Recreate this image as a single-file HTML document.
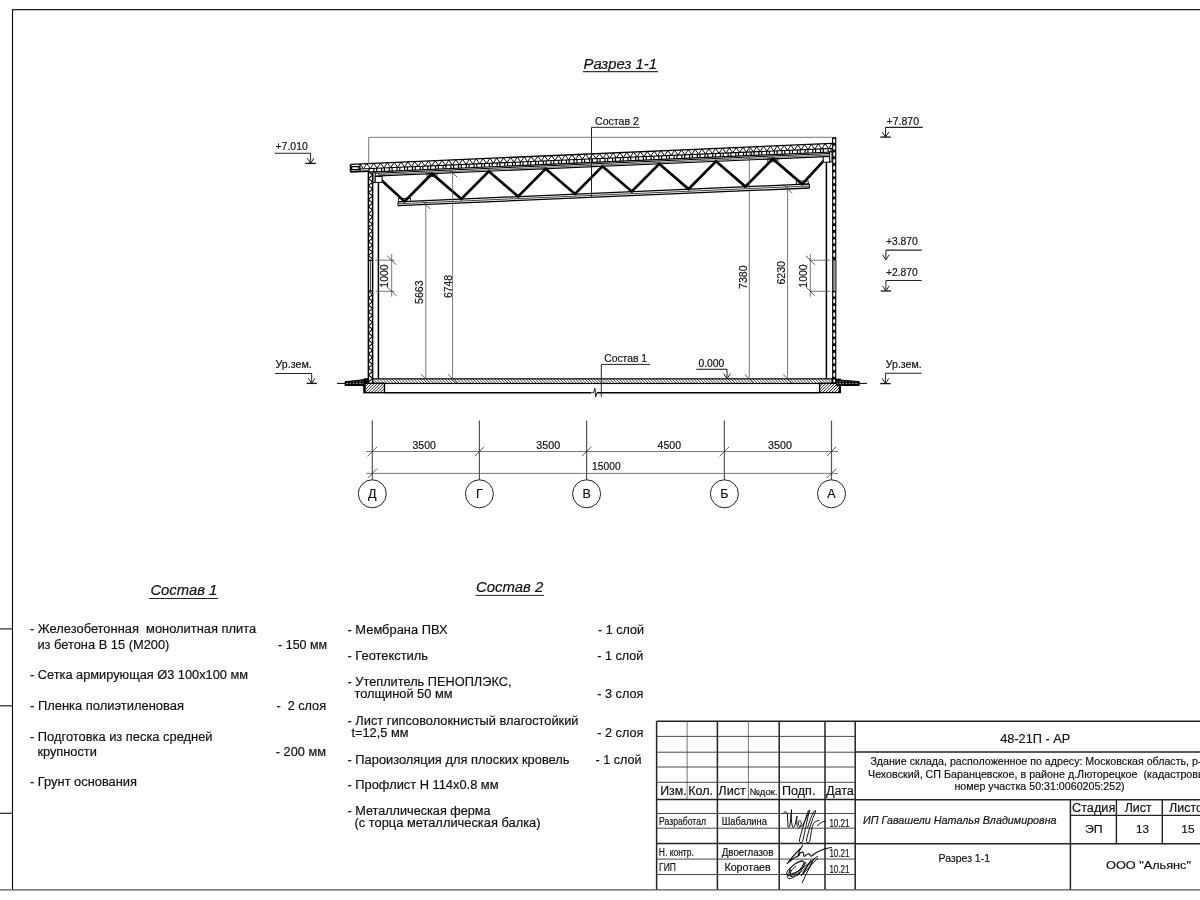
<!DOCTYPE html>
<html><head><meta charset="utf-8"><style>
html,body{margin:0;padding:0;background:#fff;}
svg{display:block;font-family:"Liberation Sans",sans-serif;will-change:transform;}
</style></head><body>
<svg width="1200" height="900" viewBox="0 0 1200 900">
<rect width="1200" height="900" fill="#fff"/>
<line x1="12.5" y1="9.6" x2="1200" y2="9.6" stroke="#1a1a1a" stroke-width="1.2" />
<line x1="12.5" y1="9.6" x2="12.5" y2="889.6" stroke="#000" stroke-width="1.1" />
<line x1="0" y1="889.8" x2="1200" y2="889.8" stroke="#555" stroke-width="1.3" />
<line x1="0" y1="628.9" x2="12" y2="628.9" stroke="#222" stroke-width="1.2" />
<line x1="0" y1="705.8" x2="12" y2="705.8" stroke="#222" stroke-width="1.2" />
<line x1="0" y1="813.3" x2="12" y2="813.3" stroke="#222" stroke-width="1.2" />
<text x="583.5" y="68.5" font-size="14" text-anchor="start" font-style="italic" textLength="73.5" lengthAdjust="spacingAndGlyphs" fill="#111" stroke="#111" stroke-width="0.18" xml:space="preserve" >Разрез 1-1</text>
<line x1="583" y1="71.6" x2="658" y2="71.6" stroke="#333" stroke-width="1.4" />
<line x1="350.5" y1="164.35" x2="832.3" y2="143.39" stroke="#000" stroke-width="1.35" />
<line x1="350.5" y1="171.95" x2="368.5" y2="171.17" stroke="#000" stroke-width="1.7" />
<line x1="360" y1="168.94" x2="832.3" y2="148.39" stroke="#000" stroke-width="1.1" />
<line x1="368" y1="172.19" x2="832.3" y2="151.99" stroke="#000" stroke-width="1.2" />
<path d="M350.5,164.35 V171.95" stroke="#000" stroke-width="1.6" fill="none" />
<rect x="351.6" y="166.61" width="7.4" height="3" stroke="#000" stroke-width="1.3" fill="#fff" />
<line x1="360" y1="163.94" x2="360" y2="171.54" stroke="#000" stroke-width="1.2" />
<path d="M360,163.94 L363.42,168.79 L366.84,163.64 L370.26,168.49 L373.68,163.34 L377.1,168.2 L380.52,163.05 L383.94,167.9 L387.36,162.75 L390.78,167.6 L394.2,162.45 L397.62,167.3 L401.04,162.15 L404.46,167.01 L407.88,161.86 L411.3,166.71 L414.72,161.56 L418.14,166.41 L421.56,161.26 L424.98,166.11 L428.4,160.96 L431.82,165.82 L435.24,160.67 L438.66,165.52 L442.08,160.37 L445.5,165.22 L448.92,160.07 L452.34,164.92 L455.76,159.77 L459.18,164.63 L462.6,159.48 L466.02,164.33 L469.44,159.18 L472.86,164.03 L476.28,158.88 L479.7,163.73 L483.12,158.58 L486.54,163.44 L489.96,158.29 L493.38,163.14 L496.8,157.99 L500.22,162.84 L503.64,157.69 L507.06,162.54 L510.48,157.39 L513.9,162.25 L517.32,157.1 L520.74,161.95 L524.16,156.8 L527.58,161.65 L531,156.5 L534.42,161.35 L537.84,156.2 L541.26,161.06 L544.68,155.91 L548.1,160.76 L551.52,155.61 L554.94,160.46 L558.36,155.31 L561.78,160.16 L565.2,155.01 L568.62,159.87 L572.04,154.72 L575.46,159.57 L578.88,154.42 L582.3,159.27 L585.72,154.12 L589.14,158.97 L592.56,153.82 L595.98,158.67 L599.4,153.53 L602.82,158.38 L606.24,153.23 L609.66,158.08 L613.08,152.93 L616.5,157.78 L619.92,152.63 L623.34,157.48 L626.76,152.34 L630.18,157.19 L633.6,152.04 L637.02,156.89 L640.44,151.74 L643.86,156.59 L647.28,151.44 L650.7,156.29 L654.12,151.15 L657.54,156 L660.96,150.85 L664.38,155.7 L667.8,150.55 L671.22,155.4 L674.64,150.25 L678.06,155.1 L681.48,149.96 L684.9,154.81 L688.32,149.66 L691.74,154.51 L695.16,149.36 L698.58,154.21 L702,149.06 L705.42,153.91 L708.84,148.77 L712.26,153.62 L715.68,148.47 L719.1,153.32 L722.52,148.17 L725.94,153.02 L729.36,147.87 L732.78,152.72 L736.2,147.58 L739.62,152.43 L743.04,147.28 L746.46,152.13 L749.88,146.98 L753.3,151.83 L756.72,146.68 L760.14,151.53 L763.56,146.39 L766.98,151.24 L770.4,146.09 L773.82,150.94 L777.24,145.79 L780.66,150.64 L784.08,145.49 L787.5,150.34 L790.92,145.19 L794.34,150.05 L797.76,144.9 L801.18,149.75 L804.6,144.6 L808.02,149.45 L811.44,144.3 L814.86,149.15 L818.28,144 L821.7,148.86 L825.12,143.71 L828.54,148.56 L831.96,143.41" stroke="#000" stroke-width="0.95" fill="none" />
<line x1="369" y1="168.55" x2="369" y2="172.15" stroke="#000" stroke-width="1.2" />
<line x1="373.9" y1="168.34" x2="373.9" y2="171.94" stroke="#000" stroke-width="1.2" />
<line x1="376.7" y1="168.21" x2="376.7" y2="171.81" stroke="#000" stroke-width="1.2" />
<line x1="381.6" y1="168" x2="381.6" y2="171.6" stroke="#000" stroke-width="1.2" />
<line x1="384.4" y1="167.88" x2="384.4" y2="171.48" stroke="#000" stroke-width="1.2" />
<line x1="389.3" y1="167.67" x2="389.3" y2="171.27" stroke="#000" stroke-width="1.2" />
<line x1="392.1" y1="167.54" x2="392.1" y2="171.14" stroke="#000" stroke-width="1.2" />
<line x1="397" y1="167.33" x2="397" y2="170.93" stroke="#000" stroke-width="1.2" />
<line x1="399.8" y1="167.21" x2="399.8" y2="170.81" stroke="#000" stroke-width="1.2" />
<line x1="404.7" y1="167" x2="404.7" y2="170.6" stroke="#000" stroke-width="1.2" />
<line x1="407.5" y1="166.87" x2="407.5" y2="170.47" stroke="#000" stroke-width="1.2" />
<line x1="412.4" y1="166.66" x2="412.4" y2="170.26" stroke="#000" stroke-width="1.2" />
<line x1="415.2" y1="166.54" x2="415.2" y2="170.14" stroke="#000" stroke-width="1.2" />
<line x1="420.1" y1="166.33" x2="420.1" y2="169.93" stroke="#000" stroke-width="1.2" />
<line x1="422.9" y1="166.2" x2="422.9" y2="169.8" stroke="#000" stroke-width="1.2" />
<line x1="427.8" y1="165.99" x2="427.8" y2="169.59" stroke="#000" stroke-width="1.2" />
<line x1="430.6" y1="165.87" x2="430.6" y2="169.47" stroke="#000" stroke-width="1.2" />
<line x1="435.5" y1="165.66" x2="435.5" y2="169.26" stroke="#000" stroke-width="1.2" />
<line x1="438.3" y1="165.53" x2="438.3" y2="169.13" stroke="#000" stroke-width="1.2" />
<line x1="443.2" y1="165.32" x2="443.2" y2="168.92" stroke="#000" stroke-width="1.2" />
<line x1="446" y1="165.2" x2="446" y2="168.8" stroke="#000" stroke-width="1.2" />
<line x1="450.9" y1="164.99" x2="450.9" y2="168.59" stroke="#000" stroke-width="1.2" />
<line x1="453.7" y1="164.86" x2="453.7" y2="168.46" stroke="#000" stroke-width="1.2" />
<line x1="458.6" y1="164.65" x2="458.6" y2="168.25" stroke="#000" stroke-width="1.2" />
<line x1="461.4" y1="164.53" x2="461.4" y2="168.13" stroke="#000" stroke-width="1.2" />
<line x1="466.3" y1="164.32" x2="466.3" y2="167.92" stroke="#000" stroke-width="1.2" />
<line x1="469.1" y1="164.19" x2="469.1" y2="167.79" stroke="#000" stroke-width="1.2" />
<line x1="474" y1="163.98" x2="474" y2="167.58" stroke="#000" stroke-width="1.2" />
<line x1="476.8" y1="163.86" x2="476.8" y2="167.46" stroke="#000" stroke-width="1.2" />
<line x1="481.7" y1="163.65" x2="481.7" y2="167.25" stroke="#000" stroke-width="1.2" />
<line x1="484.5" y1="163.52" x2="484.5" y2="167.12" stroke="#000" stroke-width="1.2" />
<line x1="489.4" y1="163.31" x2="489.4" y2="166.91" stroke="#000" stroke-width="1.2" />
<line x1="492.2" y1="163.19" x2="492.2" y2="166.79" stroke="#000" stroke-width="1.2" />
<line x1="497.1" y1="162.98" x2="497.1" y2="166.58" stroke="#000" stroke-width="1.2" />
<line x1="499.9" y1="162.85" x2="499.9" y2="166.45" stroke="#000" stroke-width="1.2" />
<line x1="504.8" y1="162.64" x2="504.8" y2="166.24" stroke="#000" stroke-width="1.2" />
<line x1="507.6" y1="162.52" x2="507.6" y2="166.12" stroke="#000" stroke-width="1.2" />
<line x1="512.5" y1="162.31" x2="512.5" y2="165.91" stroke="#000" stroke-width="1.2" />
<line x1="515.3" y1="162.18" x2="515.3" y2="165.78" stroke="#000" stroke-width="1.2" />
<line x1="520.2" y1="161.97" x2="520.2" y2="165.57" stroke="#000" stroke-width="1.2" />
<line x1="523" y1="161.85" x2="523" y2="165.45" stroke="#000" stroke-width="1.2" />
<line x1="527.9" y1="161.64" x2="527.9" y2="165.24" stroke="#000" stroke-width="1.2" />
<line x1="530.7" y1="161.51" x2="530.7" y2="165.11" stroke="#000" stroke-width="1.2" />
<line x1="535.6" y1="161.3" x2="535.6" y2="164.9" stroke="#000" stroke-width="1.2" />
<line x1="538.4" y1="161.18" x2="538.4" y2="164.78" stroke="#000" stroke-width="1.2" />
<line x1="543.3" y1="160.97" x2="543.3" y2="164.57" stroke="#000" stroke-width="1.2" />
<line x1="546.1" y1="160.84" x2="546.1" y2="164.44" stroke="#000" stroke-width="1.2" />
<line x1="551" y1="160.63" x2="551" y2="164.23" stroke="#000" stroke-width="1.2" />
<line x1="553.8" y1="160.51" x2="553.8" y2="164.11" stroke="#000" stroke-width="1.2" />
<line x1="558.7" y1="160.3" x2="558.7" y2="163.9" stroke="#000" stroke-width="1.2" />
<line x1="561.5" y1="160.17" x2="561.5" y2="163.77" stroke="#000" stroke-width="1.2" />
<line x1="566.4" y1="159.96" x2="566.4" y2="163.56" stroke="#000" stroke-width="1.2" />
<line x1="569.2" y1="159.84" x2="569.2" y2="163.44" stroke="#000" stroke-width="1.2" />
<line x1="574.1" y1="159.63" x2="574.1" y2="163.23" stroke="#000" stroke-width="1.2" />
<line x1="576.9" y1="159.5" x2="576.9" y2="163.1" stroke="#000" stroke-width="1.2" />
<line x1="581.8" y1="159.29" x2="581.8" y2="162.89" stroke="#000" stroke-width="1.2" />
<line x1="584.6" y1="159.17" x2="584.6" y2="162.77" stroke="#000" stroke-width="1.2" />
<line x1="589.5" y1="158.96" x2="589.5" y2="162.56" stroke="#000" stroke-width="1.2" />
<line x1="592.3" y1="158.83" x2="592.3" y2="162.43" stroke="#000" stroke-width="1.2" />
<line x1="597.2" y1="158.62" x2="597.2" y2="162.22" stroke="#000" stroke-width="1.2" />
<line x1="600" y1="158.5" x2="600" y2="162.1" stroke="#000" stroke-width="1.2" />
<line x1="604.9" y1="158.29" x2="604.9" y2="161.89" stroke="#000" stroke-width="1.2" />
<line x1="607.7" y1="158.17" x2="607.7" y2="161.77" stroke="#000" stroke-width="1.2" />
<line x1="612.6" y1="157.95" x2="612.6" y2="161.55" stroke="#000" stroke-width="1.2" />
<line x1="615.4" y1="157.83" x2="615.4" y2="161.43" stroke="#000" stroke-width="1.2" />
<line x1="620.3" y1="157.62" x2="620.3" y2="161.22" stroke="#000" stroke-width="1.2" />
<line x1="623.1" y1="157.5" x2="623.1" y2="161.1" stroke="#000" stroke-width="1.2" />
<line x1="628" y1="157.28" x2="628" y2="160.88" stroke="#000" stroke-width="1.2" />
<line x1="630.8" y1="157.16" x2="630.8" y2="160.76" stroke="#000" stroke-width="1.2" />
<line x1="635.7" y1="156.95" x2="635.7" y2="160.55" stroke="#000" stroke-width="1.2" />
<line x1="638.5" y1="156.83" x2="638.5" y2="160.43" stroke="#000" stroke-width="1.2" />
<line x1="643.4" y1="156.61" x2="643.4" y2="160.21" stroke="#000" stroke-width="1.2" />
<line x1="646.2" y1="156.49" x2="646.2" y2="160.09" stroke="#000" stroke-width="1.2" />
<line x1="651.1" y1="156.28" x2="651.1" y2="159.88" stroke="#000" stroke-width="1.2" />
<line x1="653.9" y1="156.16" x2="653.9" y2="159.76" stroke="#000" stroke-width="1.2" />
<line x1="658.8" y1="155.94" x2="658.8" y2="159.54" stroke="#000" stroke-width="1.2" />
<line x1="661.6" y1="155.82" x2="661.6" y2="159.42" stroke="#000" stroke-width="1.2" />
<line x1="666.5" y1="155.61" x2="666.5" y2="159.21" stroke="#000" stroke-width="1.2" />
<line x1="669.3" y1="155.49" x2="669.3" y2="159.09" stroke="#000" stroke-width="1.2" />
<line x1="674.2" y1="155.27" x2="674.2" y2="158.87" stroke="#000" stroke-width="1.2" />
<line x1="677" y1="155.15" x2="677" y2="158.75" stroke="#000" stroke-width="1.2" />
<line x1="681.9" y1="154.94" x2="681.9" y2="158.54" stroke="#000" stroke-width="1.2" />
<line x1="684.7" y1="154.82" x2="684.7" y2="158.42" stroke="#000" stroke-width="1.2" />
<line x1="689.6" y1="154.6" x2="689.6" y2="158.2" stroke="#000" stroke-width="1.2" />
<line x1="692.4" y1="154.48" x2="692.4" y2="158.08" stroke="#000" stroke-width="1.2" />
<line x1="697.3" y1="154.27" x2="697.3" y2="157.87" stroke="#000" stroke-width="1.2" />
<line x1="700.1" y1="154.15" x2="700.1" y2="157.75" stroke="#000" stroke-width="1.2" />
<line x1="705" y1="153.93" x2="705" y2="157.53" stroke="#000" stroke-width="1.2" />
<line x1="707.8" y1="153.81" x2="707.8" y2="157.41" stroke="#000" stroke-width="1.2" />
<line x1="712.7" y1="153.6" x2="712.7" y2="157.2" stroke="#000" stroke-width="1.2" />
<line x1="715.5" y1="153.48" x2="715.5" y2="157.08" stroke="#000" stroke-width="1.2" />
<line x1="720.4" y1="153.26" x2="720.4" y2="156.86" stroke="#000" stroke-width="1.2" />
<line x1="723.2" y1="153.14" x2="723.2" y2="156.74" stroke="#000" stroke-width="1.2" />
<line x1="728.1" y1="152.93" x2="728.1" y2="156.53" stroke="#000" stroke-width="1.2" />
<line x1="730.9" y1="152.81" x2="730.9" y2="156.41" stroke="#000" stroke-width="1.2" />
<line x1="735.8" y1="152.59" x2="735.8" y2="156.19" stroke="#000" stroke-width="1.2" />
<line x1="738.6" y1="152.47" x2="738.6" y2="156.07" stroke="#000" stroke-width="1.2" />
<line x1="743.5" y1="152.26" x2="743.5" y2="155.86" stroke="#000" stroke-width="1.2" />
<line x1="746.3" y1="152.14" x2="746.3" y2="155.74" stroke="#000" stroke-width="1.2" />
<line x1="751.2" y1="151.92" x2="751.2" y2="155.52" stroke="#000" stroke-width="1.2" />
<line x1="754" y1="151.8" x2="754" y2="155.4" stroke="#000" stroke-width="1.2" />
<line x1="758.9" y1="151.59" x2="758.9" y2="155.19" stroke="#000" stroke-width="1.2" />
<line x1="761.7" y1="151.47" x2="761.7" y2="155.07" stroke="#000" stroke-width="1.2" />
<line x1="766.6" y1="151.25" x2="766.6" y2="154.85" stroke="#000" stroke-width="1.2" />
<line x1="769.4" y1="151.13" x2="769.4" y2="154.73" stroke="#000" stroke-width="1.2" />
<line x1="774.3" y1="150.92" x2="774.3" y2="154.52" stroke="#000" stroke-width="1.2" />
<line x1="777.1" y1="150.8" x2="777.1" y2="154.4" stroke="#000" stroke-width="1.2" />
<line x1="782" y1="150.58" x2="782" y2="154.18" stroke="#000" stroke-width="1.2" />
<line x1="784.8" y1="150.46" x2="784.8" y2="154.06" stroke="#000" stroke-width="1.2" />
<line x1="789.7" y1="150.25" x2="789.7" y2="153.85" stroke="#000" stroke-width="1.2" />
<line x1="792.5" y1="150.13" x2="792.5" y2="153.73" stroke="#000" stroke-width="1.2" />
<line x1="797.4" y1="149.91" x2="797.4" y2="153.51" stroke="#000" stroke-width="1.2" />
<line x1="800.2" y1="149.79" x2="800.2" y2="153.39" stroke="#000" stroke-width="1.2" />
<line x1="805.1" y1="149.58" x2="805.1" y2="153.18" stroke="#000" stroke-width="1.2" />
<line x1="807.9" y1="149.46" x2="807.9" y2="153.06" stroke="#000" stroke-width="1.2" />
<line x1="812.8" y1="149.24" x2="812.8" y2="152.84" stroke="#000" stroke-width="1.2" />
<line x1="815.6" y1="149.12" x2="815.6" y2="152.72" stroke="#000" stroke-width="1.2" />
<line x1="820.5" y1="148.91" x2="820.5" y2="152.51" stroke="#000" stroke-width="1.2" />
<line x1="823.3" y1="148.79" x2="823.3" y2="152.39" stroke="#000" stroke-width="1.2" />
<line x1="828.2" y1="148.57" x2="828.2" y2="152.17" stroke="#000" stroke-width="1.2" />
<line x1="831" y1="148.45" x2="831" y2="152.05" stroke="#000" stroke-width="1.2" />
<line x1="374" y1="173.33" x2="831" y2="153.45" stroke="#000" stroke-width="1.0" />
<line x1="378" y1="174.66" x2="831" y2="154.95" stroke="#222" stroke-width="0.7" />
<line x1="374" y1="176.13" x2="831" y2="156.35" stroke="#000" stroke-width="1.2" />
<line x1="398" y1="201.79" x2="809.4" y2="183.99" stroke="#000" stroke-width="1.25" />
<line x1="398" y1="203.79" x2="809.4" y2="185.99" stroke="#111" stroke-width="0.8" />
<line x1="398" y1="205.69" x2="809.4" y2="187.99" stroke="#000" stroke-width="1.3" />
<line x1="398" y1="201.79" x2="398" y2="205.69" stroke="#000" stroke-width="1.0" />
<line x1="809.4" y1="183.99" x2="809.4" y2="187.99" stroke="#000" stroke-width="1.0" />
<path d="M379.5,178.49 L404.6,201.4 L432,173.71 L461.4,198.93 L488.8,171.24 L518.2,196.46 L545.6,168.77 L575,193.99 L602.4,166.3 L631.8,191.52 L659.2,163.82 L688.6,189.05 L716,161.35 L745.4,186.58 L772.8,158.88 L802.2,184.1 L825,159.31" stroke="#000" stroke-width="2.7" fill="none" stroke-linejoin="miter"/>
<rect x="398.6" y="198.3" width="12" height="3.2" stroke="#000" stroke-width="0.8" fill="none" />
<rect x="796.2" y="181" width="12" height="3.2" stroke="#000" stroke-width="0.8" fill="none" />
<rect x="427" y="173.81" width="10" height="2.8" stroke="#000" stroke-width="0.8" fill="none" />
<rect x="767.8" y="158.98" width="10" height="2.8" stroke="#000" stroke-width="0.8" fill="none" />
<rect x="372.8" y="171.98" width="2.4" height="10.6" stroke="#000" stroke-width="1.0" fill="#fff" />
<rect x="375.2" y="176.58" width="6.9" height="5.8" stroke="#000" stroke-width="1.0" fill="#fff" />
<rect x="829.6" y="151.91" width="2.4" height="10" stroke="#000" stroke-width="1.0" fill="#fff" />
<rect x="823.2" y="156.69" width="6.4" height="5.5" stroke="#000" stroke-width="1.0" fill="#fff" />
<path d="M368.4,171.59 L372.6,175.09 L368.4,178.59 L372.6,182.09 L368.4,185.59 L372.6,189.09 L368.4,192.59 L372.6,196.09 L368.4,199.59 L372.6,203.09 L368.4,206.59 L372.6,210.09 L368.4,213.59 L372.6,217.09 L368.4,220.59 L372.6,224.09 L368.4,227.59 L372.6,231.09 L368.4,234.59 L372.6,238.09 L368.4,241.59 L372.6,245.09 L368.4,248.59 L372.6,252.09 L368.4,255.59 L372.6,259.09" stroke="#000" stroke-width="1.1" fill="none" />
<path d="M368.4,290.9 L372.6,294.4 L368.4,297.9 L372.6,301.4 L368.4,304.9 L372.6,308.4 L368.4,311.9 L372.6,315.4 L368.4,318.9 L372.6,322.4 L368.4,325.9 L372.6,329.4 L368.4,332.9 L372.6,336.4 L368.4,339.9 L372.6,343.4 L368.4,346.9 L372.6,350.4 L368.4,353.9 L372.6,357.4 L368.4,360.9 L372.6,364.4 L368.4,367.9 L372.6,371.4 L368.4,374.9 L372.6,378.4 L368.4,381.9" stroke="#000" stroke-width="1.1" fill="none" />
<line x1="368.4" y1="171.19" x2="368.4" y2="383.5" stroke="#000" stroke-width="1.5" />
<line x1="372.6" y1="171.72" x2="372.6" y2="383.5" stroke="#000" stroke-width="1.5" />
<line x1="368.4" y1="260.3" x2="372.6" y2="260.3" stroke="#000" stroke-width="1.3" />
<line x1="368.4" y1="290.9" x2="372.6" y2="290.9" stroke="#000" stroke-width="1.3" />
<line x1="370.5" y1="260.3" x2="370.5" y2="290.9" stroke="#000" stroke-width="0.7" />
<rect x="832.1" y="137.1" width="4.2" height="246.4" stroke="#000" stroke-width="0" fill="#000" />
<rect x="833.2" y="138.6" width="2" height="4.6" rx="1" ry="1.6" fill="#fff" stroke="none"/>
<rect x="833.2" y="145.3" width="2" height="4.6" rx="1" ry="1.6" fill="#fff" stroke="none"/>
<rect x="833.2" y="152" width="2" height="4.6" rx="1" ry="1.6" fill="#fff" stroke="none"/>
<rect x="833.2" y="158.7" width="2" height="4.6" rx="1" ry="1.6" fill="#fff" stroke="none"/>
<rect x="833.2" y="165.4" width="2" height="4.6" rx="1" ry="1.6" fill="#fff" stroke="none"/>
<rect x="833.2" y="172.1" width="2" height="4.6" rx="1" ry="1.6" fill="#fff" stroke="none"/>
<rect x="833.2" y="178.8" width="2" height="4.6" rx="1" ry="1.6" fill="#fff" stroke="none"/>
<rect x="833.2" y="185.5" width="2" height="4.6" rx="1" ry="1.6" fill="#fff" stroke="none"/>
<rect x="833.2" y="192.2" width="2" height="4.6" rx="1" ry="1.6" fill="#fff" stroke="none"/>
<rect x="833.2" y="198.9" width="2" height="4.6" rx="1" ry="1.6" fill="#fff" stroke="none"/>
<rect x="833.2" y="205.6" width="2" height="4.6" rx="1" ry="1.6" fill="#fff" stroke="none"/>
<rect x="833.2" y="212.3" width="2" height="4.6" rx="1" ry="1.6" fill="#fff" stroke="none"/>
<rect x="833.2" y="219" width="2" height="4.6" rx="1" ry="1.6" fill="#fff" stroke="none"/>
<rect x="833.2" y="225.7" width="2" height="4.6" rx="1" ry="1.6" fill="#fff" stroke="none"/>
<rect x="833.2" y="232.4" width="2" height="4.6" rx="1" ry="1.6" fill="#fff" stroke="none"/>
<rect x="833.2" y="239.1" width="2" height="4.6" rx="1" ry="1.6" fill="#fff" stroke="none"/>
<rect x="833.2" y="245.8" width="2" height="4.6" rx="1" ry="1.6" fill="#fff" stroke="none"/>
<rect x="833.2" y="252.5" width="2" height="4.6" rx="1" ry="1.6" fill="#fff" stroke="none"/>
<rect x="833.2" y="292.1" width="2" height="4.6" rx="1" ry="1.6" fill="#fff" stroke="none"/>
<rect x="833.2" y="298.8" width="2" height="4.6" rx="1" ry="1.6" fill="#fff" stroke="none"/>
<rect x="833.2" y="305.5" width="2" height="4.6" rx="1" ry="1.6" fill="#fff" stroke="none"/>
<rect x="833.2" y="312.2" width="2" height="4.6" rx="1" ry="1.6" fill="#fff" stroke="none"/>
<rect x="833.2" y="318.9" width="2" height="4.6" rx="1" ry="1.6" fill="#fff" stroke="none"/>
<rect x="833.2" y="325.6" width="2" height="4.6" rx="1" ry="1.6" fill="#fff" stroke="none"/>
<rect x="833.2" y="332.3" width="2" height="4.6" rx="1" ry="1.6" fill="#fff" stroke="none"/>
<rect x="833.2" y="339" width="2" height="4.6" rx="1" ry="1.6" fill="#fff" stroke="none"/>
<rect x="833.2" y="345.7" width="2" height="4.6" rx="1" ry="1.6" fill="#fff" stroke="none"/>
<rect x="833.2" y="352.4" width="2" height="4.6" rx="1" ry="1.6" fill="#fff" stroke="none"/>
<rect x="833.2" y="359.1" width="2" height="4.6" rx="1" ry="1.6" fill="#fff" stroke="none"/>
<rect x="833.2" y="365.8" width="2" height="4.6" rx="1" ry="1.6" fill="#fff" stroke="none"/>
<rect x="833.2" y="372.5" width="2" height="4.6" rx="1" ry="1.6" fill="#fff" stroke="none"/>
<rect x="833.2" y="379.2" width="2" height="3.3" rx="1" ry="1.6" fill="#fff" stroke="none"/>
<rect x="832.6" y="260.3" width="3.2" height="30.6" stroke="#000" stroke-width="0" fill="#999" />
<line x1="832.7" y1="260.3" x2="832.7" y2="290.9" stroke="#222" stroke-width="1.2" />
<line x1="835.9" y1="260.3" x2="835.9" y2="290.9" stroke="#444" stroke-width="0.8" />
<line x1="378.4" y1="182.16" x2="378.4" y2="379" stroke="#000" stroke-width="1.5" />
<line x1="826.4" y1="162.17" x2="826.4" y2="379" stroke="#000" stroke-width="1.5" />
<defs><pattern id="h1" patternUnits="userSpaceOnUse" width="2.2" height="2.2" patternTransform="rotate(-45)"><line x1="0" y1="0" x2="0" y2="2.2" stroke="#000" stroke-width="1.05"/></pattern><pattern id="h2" patternUnits="userSpaceOnUse" width="2.1" height="2.1" patternTransform="rotate(45)"><line x1="0" y1="0" x2="0" y2="2.1" stroke="#000" stroke-width="1.2"/></pattern><pattern id="h3" patternUnits="userSpaceOnUse" width="3.2" height="2.3" y="0.4"><rect width="3.2" height="2.3" fill="#000"/><rect x="0.9" y="0.8" width="1.5" height="0.8" fill="#ddd"/></pattern></defs>
<rect x="372.6" y="378.85" width="459.5" height="4.6" stroke="#000" stroke-width="1.2" fill="url(#h1)" />
<rect x="364" y="383.3" width="20.5" height="9.4" stroke="#000" stroke-width="1.3" fill="url(#h2)" />
<line x1="364.6" y1="383.3" x2="364.6" y2="392.7" stroke="#000" stroke-width="2.2" />
<rect x="819.6" y="383.3" width="20.8" height="9.3" stroke="#000" stroke-width="1.3" fill="url(#h2)" />
<line x1="839.8" y1="383.3" x2="839.8" y2="392.6" stroke="#000" stroke-width="2.2" />
<line x1="384.5" y1="392.7" x2="591.3" y2="392.7" stroke="#000" stroke-width="1.4" />
<line x1="597" y1="392.7" x2="819.6" y2="392.7" stroke="#000" stroke-width="1.4" />
<path d="M591.3,392.7 L593.5,392.7 L595,388.3 L595.6,397 L597,392.7" stroke="#000" stroke-width="0.9" fill="none" />
<rect x="363.8" y="378.2" width="4.6" height="5.2" stroke="#000" stroke-width="0" fill="#000" />
<path d="M345,381.6 L356,380.6 L363.8,379.6 L363.8,385.5 L345,385.5 Z" stroke="#000" stroke-width="1.0" fill="url(#h3)" />
<line x1="337" y1="383.4" x2="345" y2="383.4" stroke="#000" stroke-width="1.0" />
<rect x="836.3" y="378.6" width="4.4" height="5" stroke="#000" stroke-width="0" fill="#000" />
<path d="M836.3,379.6 L847,380.6 L859.2,381.6 L859.2,385.5 L836.3,385.5 Z" stroke="#000" stroke-width="1.0" fill="url(#h3)" />
<line x1="859.2" y1="383.4" x2="867" y2="383.4" stroke="#000" stroke-width="1.0" />
<line x1="368.7" y1="137.3" x2="832.3" y2="137.3" stroke="#555" stroke-width="0.8" />
<line x1="368.7" y1="137.3" x2="368.7" y2="164" stroke="#555" stroke-width="0.8" />
<line x1="425.8" y1="199.58" x2="425.8" y2="378.9" stroke="#555" stroke-width="0.8" />
<line x1="421.3" y1="200.08" x2="430.3" y2="209.08" stroke="#333" stroke-width="0.8" />
<line x1="421.3" y1="374.4" x2="430.3" y2="383.4" stroke="#333" stroke-width="0.8" />
<line x1="452.6" y1="168.51" x2="452.6" y2="378.9" stroke="#555" stroke-width="0.8" />
<line x1="448.1" y1="168.21" x2="457.1" y2="177.21" stroke="#333" stroke-width="0.8" />
<line x1="448.1" y1="374.4" x2="457.1" y2="383.4" stroke="#333" stroke-width="0.8" />
<line x1="749.3" y1="147.51" x2="749.3" y2="378.9" stroke="#555" stroke-width="0.8" />
<line x1="744.8" y1="374.4" x2="753.8" y2="383.4" stroke="#333" stroke-width="0.8" />
<line x1="787.6" y1="183.84" x2="787.6" y2="378.9" stroke="#555" stroke-width="0.8" />
<line x1="783.1" y1="184.34" x2="792.1" y2="193.34" stroke="#333" stroke-width="0.8" />
<line x1="783.1" y1="374.4" x2="792.1" y2="383.4" stroke="#333" stroke-width="0.8" />
<text x="423.1" y="292.2" font-size="10.5" text-anchor="middle" textLength="23.6" lengthAdjust="spacingAndGlyphs" transform="rotate(-90 423.1 292.2)" fill="#111" stroke="#111" stroke-width="0.18" xml:space="preserve" >5663</text>
<text x="452" y="286.5" font-size="10.5" text-anchor="middle" textLength="23.2" lengthAdjust="spacingAndGlyphs" transform="rotate(-90 452 286.5)" fill="#111" stroke="#111" stroke-width="0.18" xml:space="preserve" >6748</text>
<text x="746.8" y="277.2" font-size="10.5" text-anchor="middle" textLength="23.4" lengthAdjust="spacingAndGlyphs" transform="rotate(-90 746.8 277.2)" fill="#111" stroke="#111" stroke-width="0.18" xml:space="preserve" >7380</text>
<text x="785" y="272.8" font-size="10.5" text-anchor="middle" textLength="23.4" lengthAdjust="spacingAndGlyphs" transform="rotate(-90 785 272.8)" fill="#111" stroke="#111" stroke-width="0.18" xml:space="preserve" >6230</text>
<line x1="391.7" y1="253.9" x2="391.7" y2="296.7" stroke="#555" stroke-width="0.8" />
<line x1="375.6" y1="260.2" x2="394.4" y2="260.2" stroke="#555" stroke-width="0.8" />
<line x1="375.6" y1="291.3" x2="394.4" y2="291.3" stroke="#555" stroke-width="0.8" />
<line x1="387.2" y1="255.7" x2="396.2" y2="264.7" stroke="#333" stroke-width="0.8" />
<line x1="387.2" y1="286.8" x2="396.2" y2="295.8" stroke="#333" stroke-width="0.8" />
<text x="388.1" y="276" font-size="10.5" text-anchor="middle" textLength="23.4" lengthAdjust="spacingAndGlyphs" transform="rotate(-90 388.1 276)" fill="#111" stroke="#111" stroke-width="0.18" xml:space="preserve" >1000</text>
<line x1="810.3" y1="253.9" x2="810.3" y2="296.7" stroke="#555" stroke-width="0.8" />
<line x1="809.5" y1="260.2" x2="830" y2="260.2" stroke="#555" stroke-width="0.8" />
<line x1="809.5" y1="291.3" x2="830" y2="291.3" stroke="#555" stroke-width="0.8" />
<line x1="805.8" y1="255.7" x2="814.8" y2="264.7" stroke="#333" stroke-width="0.8" />
<line x1="805.8" y1="286.8" x2="814.8" y2="295.8" stroke="#333" stroke-width="0.8" />
<text x="807.1" y="276" font-size="10.5" text-anchor="middle" textLength="23.4" lengthAdjust="spacingAndGlyphs" transform="rotate(-90 807.1 276)" fill="#111" stroke="#111" stroke-width="0.18" xml:space="preserve" >1000</text>
<line x1="274.6" y1="153.2" x2="310.6" y2="153.2" stroke="#222" stroke-width="1.1" />
<line x1="310.6" y1="153.2" x2="310.6" y2="163.4" stroke="#222" stroke-width="1.0" />
<path d="M307.3,158.2 L310.6,163.4 L313.9,158.2" stroke="#222" stroke-width="1.0" fill="none" />
<line x1="305.4" y1="163.4" x2="315.8" y2="163.4" stroke="#111" stroke-width="1.3" />
<text x="275.5" y="150.4" font-size="10.5" text-anchor="start" textLength="32.3" lengthAdjust="spacingAndGlyphs" fill="#111" stroke="#111" stroke-width="0.18" xml:space="preserve" >+7.010</text>
<line x1="885.5" y1="127.4" x2="922.8" y2="127.4" stroke="#222" stroke-width="1.1" />
<line x1="885.5" y1="127.4" x2="885.5" y2="137.1" stroke="#222" stroke-width="1.0" />
<path d="M882.2,131.9 L885.5,137.1 L888.8,131.9" stroke="#222" stroke-width="1.0" fill="none" />
<line x1="880.3" y1="137.1" x2="890.7" y2="137.1" stroke="#111" stroke-width="1.3" />
<text x="886.6" y="124.6" font-size="10.5" text-anchor="start" textLength="32.4" lengthAdjust="spacingAndGlyphs" fill="#111" stroke="#111" stroke-width="0.18" xml:space="preserve" >+7.870</text>
<line x1="885.9" y1="250.1" x2="921.7" y2="250.1" stroke="#222" stroke-width="1.1" />
<line x1="885.9" y1="250.1" x2="885.9" y2="259.9" stroke="#222" stroke-width="1.0" />
<path d="M882.6,254.7 L885.9,259.9 L889.2,254.7" stroke="#222" stroke-width="1.0" fill="none" />
<text x="885.9" y="244.8" font-size="10.5" text-anchor="start" textLength="31.9" lengthAdjust="spacingAndGlyphs" fill="#111" stroke="#111" stroke-width="0.18" xml:space="preserve" >+3.870</text>
<line x1="885.9" y1="280.5" x2="921.7" y2="280.5" stroke="#222" stroke-width="1.1" />
<line x1="885.9" y1="280.5" x2="885.9" y2="291" stroke="#222" stroke-width="1.0" />
<path d="M882.6,285.8 L885.9,291 L889.2,285.8" stroke="#222" stroke-width="1.0" fill="none" />
<line x1="880.7" y1="291" x2="891.1" y2="291" stroke="#111" stroke-width="1.3" />
<text x="885.9" y="275.5" font-size="10.5" text-anchor="start" textLength="31.9" lengthAdjust="spacingAndGlyphs" fill="#111" stroke="#111" stroke-width="0.18" xml:space="preserve" >+2.870</text>
<line x1="275.2" y1="373.5" x2="311.7" y2="373.5" stroke="#222" stroke-width="1.1" />
<line x1="311.7" y1="373.5" x2="311.7" y2="383.4" stroke="#222" stroke-width="1.0" />
<path d="M308.4,378.2 L311.7,383.4 L315,378.2" stroke="#222" stroke-width="1.0" fill="none" />
<line x1="306.5" y1="383.4" x2="316.9" y2="383.4" stroke="#111" stroke-width="1.3" />
<text x="275.5" y="368.1" font-size="10.5" text-anchor="start" textLength="36.2" lengthAdjust="spacingAndGlyphs" fill="#111" stroke="#111" stroke-width="0.18" xml:space="preserve" >Ур.зем.</text>
<line x1="885.4" y1="373.2" x2="921.6" y2="373.2" stroke="#222" stroke-width="1.1" />
<line x1="885.4" y1="373.2" x2="885.4" y2="383.6" stroke="#222" stroke-width="1.0" />
<path d="M882.1,378.4 L885.4,383.6 L888.7,378.4" stroke="#222" stroke-width="1.0" fill="none" />
<line x1="880.2" y1="383.6" x2="890.6" y2="383.6" stroke="#111" stroke-width="1.3" />
<text x="885.8" y="367.8" font-size="10.5" text-anchor="start" textLength="35.8" lengthAdjust="spacingAndGlyphs" fill="#111" stroke="#111" stroke-width="0.18" xml:space="preserve" >Ур.зем.</text>
<line x1="696.3" y1="369.3" x2="727" y2="369.3" stroke="#222" stroke-width="1.1" />
<line x1="727" y1="369.3" x2="727" y2="378.9" stroke="#222" stroke-width="1.0" />
<path d="M723.7,373.7 L727,378.9 L730.3,373.7" stroke="#222" stroke-width="1.0" fill="none" />
<text x="698.4" y="366.7" font-size="10.5" text-anchor="start" textLength="26" lengthAdjust="spacingAndGlyphs" fill="#111" stroke="#111" stroke-width="0.18" xml:space="preserve" >0.000</text>
<path d="M591.5,196.7 V127.3 H639.7" stroke="#222" stroke-width="1.0" fill="none" />
<text x="595" y="124.5" font-size="10.5" text-anchor="start" textLength="44" lengthAdjust="spacingAndGlyphs" fill="#111" stroke="#111" stroke-width="0.18" xml:space="preserve" >Состав 2</text>
<path d="M601.3,396.7 V364.4 H650.2" stroke="#222" stroke-width="1.0" fill="none" />
<text x="604.2" y="361.8" font-size="10.5" text-anchor="start" textLength="42.9" lengthAdjust="spacingAndGlyphs" fill="#111" stroke="#111" stroke-width="0.18" xml:space="preserve" >Состав 1</text>
<line x1="366" y1="451.5" x2="838" y2="451.5" stroke="#555" stroke-width="0.8" />
<line x1="366" y1="473.4" x2="838" y2="473.4" stroke="#555" stroke-width="0.8" />
<line x1="372.3" y1="420.6" x2="372.3" y2="479.8" stroke="#555" stroke-width="1.2" />
<circle cx="372.3" cy="493.8" r="14" stroke="#222" stroke-width="1.0" fill="none"/>
<text x="372.3" y="498.2" font-size="12.5" text-anchor="middle" fill="#111" stroke="#111" stroke-width="0.18" xml:space="preserve" >Д</text>
<line x1="367.6" y1="456.2" x2="377" y2="446.8" stroke="#333" stroke-width="0.8" />
<line x1="479.4" y1="420.6" x2="479.4" y2="479.8" stroke="#555" stroke-width="1.2" />
<circle cx="479.4" cy="493.8" r="14" stroke="#222" stroke-width="1.0" fill="none"/>
<text x="479.4" y="498.2" font-size="12.5" text-anchor="middle" fill="#111" stroke="#111" stroke-width="0.18" xml:space="preserve" >Г</text>
<line x1="474.7" y1="456.2" x2="484.1" y2="446.8" stroke="#333" stroke-width="0.8" />
<line x1="586.6" y1="420.6" x2="586.6" y2="479.8" stroke="#555" stroke-width="1.2" />
<circle cx="586.6" cy="493.8" r="14" stroke="#222" stroke-width="1.0" fill="none"/>
<text x="586.6" y="498.2" font-size="12.5" text-anchor="middle" fill="#111" stroke="#111" stroke-width="0.18" xml:space="preserve" >В</text>
<line x1="581.9" y1="456.2" x2="591.3" y2="446.8" stroke="#333" stroke-width="0.8" />
<line x1="724.4" y1="420.6" x2="724.4" y2="479.8" stroke="#555" stroke-width="1.2" />
<circle cx="724.4" cy="493.8" r="14" stroke="#222" stroke-width="1.0" fill="none"/>
<text x="724.4" y="498.2" font-size="12.5" text-anchor="middle" fill="#111" stroke="#111" stroke-width="0.18" xml:space="preserve" >Б</text>
<line x1="719.7" y1="456.2" x2="729.1" y2="446.8" stroke="#333" stroke-width="0.8" />
<line x1="831.5" y1="420.6" x2="831.5" y2="479.8" stroke="#555" stroke-width="1.2" />
<circle cx="831.5" cy="493.8" r="14" stroke="#222" stroke-width="1.0" fill="none"/>
<text x="831.5" y="498.2" font-size="12.5" text-anchor="middle" fill="#111" stroke="#111" stroke-width="0.18" xml:space="preserve" >А</text>
<line x1="826.8" y1="456.2" x2="836.2" y2="446.8" stroke="#333" stroke-width="0.8" />
<line x1="367.6" y1="478.1" x2="377" y2="468.7" stroke="#333" stroke-width="0.8" />
<line x1="826.8" y1="478.1" x2="836.2" y2="468.7" stroke="#333" stroke-width="0.8" />
<text x="412.5" y="448.5" font-size="10.5" text-anchor="start" textLength="23.5" lengthAdjust="spacingAndGlyphs" fill="#111" stroke="#111" stroke-width="0.18" xml:space="preserve" >3500</text>
<text x="536.3" y="448.5" font-size="10.5" text-anchor="start" textLength="23.8" lengthAdjust="spacingAndGlyphs" fill="#111" stroke="#111" stroke-width="0.18" xml:space="preserve" >3500</text>
<text x="657.6" y="448.5" font-size="10.5" text-anchor="start" textLength="23.4" lengthAdjust="spacingAndGlyphs" fill="#111" stroke="#111" stroke-width="0.18" xml:space="preserve" >4500</text>
<text x="768.1" y="448.5" font-size="10.5" text-anchor="start" textLength="23.9" lengthAdjust="spacingAndGlyphs" fill="#111" stroke="#111" stroke-width="0.18" xml:space="preserve" >3500</text>
<text x="592" y="470" font-size="10.5" text-anchor="start" textLength="28.6" lengthAdjust="spacingAndGlyphs" fill="#111" stroke="#111" stroke-width="0.18" xml:space="preserve" >15000</text>
<text x="150.4" y="595.3" font-size="14.5" text-anchor="start" font-style="italic" textLength="67" lengthAdjust="spacingAndGlyphs" fill="#111" stroke="#111" stroke-width="0.18" xml:space="preserve" >Состав 1</text>
<line x1="149" y1="598.5" x2="218" y2="598.5" stroke="#222" stroke-width="1.0" />
<text x="30" y="633.3" font-size="12" text-anchor="start" textLength="226.1" lengthAdjust="spacingAndGlyphs" fill="#111" stroke="#111" stroke-width="0.18" xml:space="preserve" >- Железобетонная  монолитная плита</text>
<text x="37.4" y="648.5" font-size="12" text-anchor="start" textLength="132" lengthAdjust="spacingAndGlyphs" fill="#111" stroke="#111" stroke-width="0.18" xml:space="preserve" >из бетона В 15 (М200)</text>
<text x="278.1" y="648.5" font-size="12" text-anchor="start" textLength="49.1" lengthAdjust="spacingAndGlyphs" fill="#111" stroke="#111" stroke-width="0.18" xml:space="preserve" >- 150 мм</text>
<text x="30" y="679.2" font-size="12" text-anchor="start" textLength="218" lengthAdjust="spacingAndGlyphs" fill="#111" stroke="#111" stroke-width="0.18" xml:space="preserve" >- Сетка армирующая Ø3 100х100 мм</text>
<text x="30" y="710" font-size="12" text-anchor="start" textLength="154" lengthAdjust="spacingAndGlyphs" fill="#111" stroke="#111" stroke-width="0.18" xml:space="preserve" >- Пленка полиэтиленовая</text>
<text x="276.4" y="710" font-size="12" text-anchor="start" textLength="49.6" lengthAdjust="spacingAndGlyphs" fill="#111" stroke="#111" stroke-width="0.18" xml:space="preserve" >-  2 слоя</text>
<text x="30" y="740.6" font-size="12" text-anchor="start" textLength="182.5" lengthAdjust="spacingAndGlyphs" fill="#111" stroke="#111" stroke-width="0.18" xml:space="preserve" >- Подготовка из песка средней</text>
<text x="37.4" y="755.7" font-size="12" text-anchor="start" textLength="59.5" lengthAdjust="spacingAndGlyphs" fill="#111" stroke="#111" stroke-width="0.18" xml:space="preserve" >крупности</text>
<text x="275.8" y="755.7" font-size="12" text-anchor="start" textLength="50.2" lengthAdjust="spacingAndGlyphs" fill="#111" stroke="#111" stroke-width="0.18" xml:space="preserve" >- 200 мм</text>
<text x="30" y="786.3" font-size="12" text-anchor="start" textLength="107" lengthAdjust="spacingAndGlyphs" fill="#111" stroke="#111" stroke-width="0.18" xml:space="preserve" >- Грунт основания</text>
<text x="476" y="592.3" font-size="14.5" text-anchor="start" font-style="italic" textLength="67.2" lengthAdjust="spacingAndGlyphs" fill="#111" stroke="#111" stroke-width="0.18" xml:space="preserve" >Состав 2</text>
<line x1="475.5" y1="595.4" x2="544" y2="595.4" stroke="#222" stroke-width="1.0" />
<text x="347.5" y="634.2" font-size="12" text-anchor="start" textLength="100" lengthAdjust="spacingAndGlyphs" fill="#111" stroke="#111" stroke-width="0.18" xml:space="preserve" >- Мембрана ПВХ</text>
<text x="598.1" y="634.2" font-size="12" text-anchor="start" textLength="45.9" lengthAdjust="spacingAndGlyphs" fill="#111" stroke="#111" stroke-width="0.18" xml:space="preserve" >- 1 слой</text>
<text x="347.5" y="659.8" font-size="12" text-anchor="start" textLength="80.5" lengthAdjust="spacingAndGlyphs" fill="#111" stroke="#111" stroke-width="0.18" xml:space="preserve" >- Геотекстиль</text>
<text x="597.3" y="659.8" font-size="12" text-anchor="start" textLength="46" lengthAdjust="spacingAndGlyphs" fill="#111" stroke="#111" stroke-width="0.18" xml:space="preserve" >- 1 слой</text>
<text x="347.5" y="685.7" font-size="12" text-anchor="start" textLength="164" lengthAdjust="spacingAndGlyphs" fill="#111" stroke="#111" stroke-width="0.18" xml:space="preserve" >- Утеплитель ПЕНОПЛЭКС,</text>
<text x="354.5" y="698.2" font-size="12" text-anchor="start" textLength="98" lengthAdjust="spacingAndGlyphs" fill="#111" stroke="#111" stroke-width="0.18" xml:space="preserve" >толщиной 50 мм</text>
<text x="597.3" y="698.2" font-size="12" text-anchor="start" textLength="46" lengthAdjust="spacingAndGlyphs" fill="#111" stroke="#111" stroke-width="0.18" xml:space="preserve" >- 3 слоя</text>
<text x="347.5" y="724.5" font-size="12" text-anchor="start" textLength="231" lengthAdjust="spacingAndGlyphs" fill="#111" stroke="#111" stroke-width="0.18" xml:space="preserve" >- Лист гипсоволокнистый влагостойкий</text>
<text x="351.5" y="737.4" font-size="12" text-anchor="start" textLength="57" lengthAdjust="spacingAndGlyphs" fill="#111" stroke="#111" stroke-width="0.18" xml:space="preserve" >t=12,5 мм</text>
<text x="597.3" y="737.4" font-size="12" text-anchor="start" textLength="46" lengthAdjust="spacingAndGlyphs" fill="#111" stroke="#111" stroke-width="0.18" xml:space="preserve" >- 2 слоя</text>
<text x="347.5" y="763.5" font-size="12" text-anchor="start" textLength="222" lengthAdjust="spacingAndGlyphs" fill="#111" stroke="#111" stroke-width="0.18" xml:space="preserve" >- Пароизоляция для плоских кровель</text>
<text x="595.5" y="763.5" font-size="12" text-anchor="start" textLength="46" lengthAdjust="spacingAndGlyphs" fill="#111" stroke="#111" stroke-width="0.18" xml:space="preserve" >- 1 слой</text>
<text x="347.5" y="789" font-size="12" text-anchor="start" textLength="151" lengthAdjust="spacingAndGlyphs" fill="#111" stroke="#111" stroke-width="0.18" xml:space="preserve" >- Профлист Н 114х0.8 мм</text>
<text x="347.5" y="814.5" font-size="12" text-anchor="start" textLength="143" lengthAdjust="spacingAndGlyphs" fill="#111" stroke="#111" stroke-width="0.18" xml:space="preserve" >- Металлическая ферма</text>
<text x="354.5" y="827.4" font-size="12" text-anchor="start" textLength="186" lengthAdjust="spacingAndGlyphs" fill="#111" stroke="#111" stroke-width="0.18" xml:space="preserve" >(с торца металлическая балка)</text>
<line x1="656.6" y1="721.2" x2="1200" y2="721.2" stroke="#222" stroke-width="1.5" />
<line x1="656.6" y1="721.2" x2="656.6" y2="889.6" stroke="#222" stroke-width="1.5" />
<line x1="717.4" y1="721.2" x2="717.4" y2="889.6" stroke="#222" stroke-width="1.5" />
<line x1="779.2" y1="721.2" x2="779.2" y2="889.6" stroke="#222" stroke-width="1.5" />
<line x1="825" y1="721.2" x2="825" y2="889.6" stroke="#222" stroke-width="1.5" />
<line x1="855.2" y1="721.2" x2="855.2" y2="889.6" stroke="#222" stroke-width="1.5" />
<line x1="687.1" y1="721.2" x2="687.1" y2="799.5" stroke="#666" stroke-width="0.9" />
<line x1="748.4" y1="721.2" x2="748.4" y2="799.5" stroke="#666" stroke-width="0.9" />
<line x1="656.6" y1="736.4" x2="855.2" y2="736.4" stroke="#333" stroke-width="0.9" />
<line x1="656.6" y1="752.2" x2="855.2" y2="752.2" stroke="#333" stroke-width="0.9" />
<line x1="656.6" y1="767" x2="855.2" y2="767" stroke="#333" stroke-width="0.9" />
<line x1="656.6" y1="782.3" x2="855.2" y2="782.3" stroke="#333" stroke-width="0.9" />
<line x1="656.6" y1="813.5" x2="855.2" y2="813.5" stroke="#333" stroke-width="0.9" />
<line x1="656.6" y1="828.2" x2="855.2" y2="828.2" stroke="#333" stroke-width="0.9" />
<line x1="656.6" y1="859.1" x2="855.2" y2="859.1" stroke="#333" stroke-width="0.9" />
<line x1="656.6" y1="874.5" x2="855.2" y2="874.5" stroke="#333" stroke-width="0.9" />
<line x1="656.6" y1="799.5" x2="855.2" y2="799.5" stroke="#222" stroke-width="1.5" />
<line x1="656.6" y1="843.6" x2="855.2" y2="843.6" stroke="#222" stroke-width="1.5" />
<line x1="855.2" y1="752" x2="1200" y2="752" stroke="#222" stroke-width="1.5" />
<line x1="855.2" y1="799.7" x2="1200" y2="799.7" stroke="#222" stroke-width="1.5" />
<line x1="855.2" y1="843.8" x2="1200" y2="843.8" stroke="#222" stroke-width="1.5" />
<line x1="1070.4" y1="799.7" x2="1070.4" y2="889.6" stroke="#222" stroke-width="1.5" />
<line x1="1070.4" y1="815.3" x2="1200" y2="815.3" stroke="#222" stroke-width="1.3" />
<line x1="1116.4" y1="799.7" x2="1116.4" y2="843.8" stroke="#222" stroke-width="1.4" />
<line x1="1162.3" y1="799.7" x2="1162.3" y2="843.8" stroke="#222" stroke-width="1.4" />
<text x="660.2" y="794.5" font-size="12" text-anchor="start" textLength="26.5" lengthAdjust="spacingAndGlyphs" fill="#111" stroke="#111" stroke-width="0.18" xml:space="preserve" >Изм.</text>
<text x="688.2" y="794.5" font-size="12" text-anchor="start" textLength="24.8" lengthAdjust="spacingAndGlyphs" fill="#111" stroke="#111" stroke-width="0.18" xml:space="preserve" >Кол.</text>
<text x="718.3" y="794.5" font-size="12" text-anchor="start" textLength="27.6" lengthAdjust="spacingAndGlyphs" fill="#111" stroke="#111" stroke-width="0.18" xml:space="preserve" >Лист</text>
<text x="749.4" y="794.5" font-size="9.5" text-anchor="start" textLength="28.3" lengthAdjust="spacingAndGlyphs" fill="#111" stroke="#111" stroke-width="0.18" xml:space="preserve" >№док.</text>
<text x="782.1" y="794.5" font-size="12" text-anchor="start" textLength="33.3" lengthAdjust="spacingAndGlyphs" fill="#111" stroke="#111" stroke-width="0.18" xml:space="preserve" >Подп.</text>
<text x="825.9" y="794.5" font-size="12" text-anchor="start" textLength="28" lengthAdjust="spacingAndGlyphs" fill="#111" stroke="#111" stroke-width="0.18" xml:space="preserve" >Дата</text>
<text x="659.1" y="825.1" font-size="10" text-anchor="start" textLength="46.9" lengthAdjust="spacingAndGlyphs" fill="#111" stroke="#111" stroke-width="0.18" xml:space="preserve" >Разработал</text>
<text x="721.8" y="825.1" font-size="10" text-anchor="start" textLength="45.1" lengthAdjust="spacingAndGlyphs" fill="#111" stroke="#111" stroke-width="0.18" xml:space="preserve" >Шабалина</text>
<text x="829.4" y="826.9" font-size="10" text-anchor="start" textLength="20.1" lengthAdjust="spacingAndGlyphs" fill="#111" stroke="#111" stroke-width="0.18" xml:space="preserve" >10.21</text>
<text x="658.8" y="855.6" font-size="10" text-anchor="start" textLength="35" lengthAdjust="spacingAndGlyphs" fill="#111" stroke="#111" stroke-width="0.18" xml:space="preserve" >Н. контр.</text>
<text x="721.8" y="855.6" font-size="10.5" text-anchor="start" textLength="51.6" lengthAdjust="spacingAndGlyphs" fill="#111" stroke="#111" stroke-width="0.18" xml:space="preserve" >Двоеглазов</text>
<text x="829.4" y="857.4" font-size="10.5" text-anchor="start" textLength="20.1" lengthAdjust="spacingAndGlyphs" fill="#111" stroke="#111" stroke-width="0.18" xml:space="preserve" >10.21</text>
<text x="659.1" y="871.4" font-size="10" text-anchor="start" textLength="16.8" lengthAdjust="spacingAndGlyphs" fill="#111" stroke="#111" stroke-width="0.18" xml:space="preserve" >ГИП</text>
<text x="724.4" y="871.2" font-size="10.5" text-anchor="start" textLength="46.4" lengthAdjust="spacingAndGlyphs" fill="#111" stroke="#111" stroke-width="0.18" xml:space="preserve" >Коротаев</text>
<text x="829.4" y="872.6" font-size="10.5" text-anchor="start" textLength="20.1" lengthAdjust="spacingAndGlyphs" fill="#111" stroke="#111" stroke-width="0.18" xml:space="preserve" >10.21</text>
<text x="1000.2" y="742.7" font-size="13.5" text-anchor="start" textLength="70" lengthAdjust="spacingAndGlyphs" fill="#111" stroke="#111" stroke-width="0.18" xml:space="preserve" >48-21П - АР</text>
<text x="870.4" y="765.4" font-size="10.65" text-anchor="start" fill="#111" stroke="#111" stroke-width="0.18" xml:space="preserve" >Здание склада, расположенное по адресу: Московская область, р-н</text>
<text x="868" y="778.2" font-size="10.72" text-anchor="start" fill="#111" stroke="#111" stroke-width="0.18" xml:space="preserve" >Чеховский, СП Баранцевское, в районе д.Люторецкое  (кадастровый</text>
<text x="954.4" y="790.4" font-size="10.5" text-anchor="start" textLength="170.3" lengthAdjust="spacingAndGlyphs" fill="#111" stroke="#111" stroke-width="0.18" xml:space="preserve" >номер участка 50:31:0060205:252)</text>
<text x="863" y="823.8" font-size="10.5" text-anchor="start" font-style="italic" textLength="193.6" lengthAdjust="spacingAndGlyphs" fill="#111" stroke="#111" stroke-width="0.18" xml:space="preserve" >ИП Гавашели Наталья Владимировна</text>
<text x="938.6" y="862.1" font-size="10.5" text-anchor="start" textLength="51.4" lengthAdjust="spacingAndGlyphs" fill="#111" stroke="#111" stroke-width="0.18" xml:space="preserve" >Разрез 1-1</text>
<text x="1072" y="812.3" font-size="12.5" text-anchor="start" textLength="43.3" lengthAdjust="spacingAndGlyphs" fill="#111" stroke="#111" stroke-width="0.18" xml:space="preserve" >Стадия</text>
<text x="1124.7" y="812.3" font-size="12.5" text-anchor="start" textLength="26.9" lengthAdjust="spacingAndGlyphs" fill="#111" stroke="#111" stroke-width="0.18" xml:space="preserve" >Лист</text>
<text x="1169" y="812.3" font-size="12.5" text-anchor="start" fill="#111" stroke="#111" stroke-width="0.18" xml:space="preserve" >Листов</text>
<text x="1085" y="833.3" font-size="11.5" text-anchor="start" textLength="17.7" lengthAdjust="spacingAndGlyphs" fill="#111" stroke="#111" stroke-width="0.18" xml:space="preserve" >ЭП</text>
<text x="1136" y="833.3" font-size="11.5" text-anchor="start" textLength="13" lengthAdjust="spacingAndGlyphs" fill="#111" stroke="#111" stroke-width="0.18" xml:space="preserve" >13</text>
<text x="1181.3" y="833.3" font-size="11.5" text-anchor="start" textLength="13.4" lengthAdjust="spacingAndGlyphs" fill="#111" stroke="#111" stroke-width="0.18" xml:space="preserve" >15</text>
<text x="1106" y="869" font-size="11.5" text-anchor="start" textLength="85" lengthAdjust="spacingAndGlyphs" fill="#111" stroke="#111" stroke-width="0.18" xml:space="preserve" >ООО &quot;Альянс&quot;</text>
<path d="M783.3,813.4 C784.5,811.2 786.8,811.5 787.4,814 L788,826.5 C788.4,828 789.5,827.5 790,825 L791.6,809.5 C791.2,815 791,822 792.5,827 C793.5,828.5 795,826 795.5,823 L797,816 C796.5,820 796.5,826 798,827.5 C799.5,828.5 801.5,826 801.2,822.5 C801,820 798.5,820 798.2,823 C798,826 801,828 803,825 L809.5,811 C810,809.5 808.5,810 808,811.5 C805,820 800.5,835 799.5,840 C799,843.5 802.5,843.5 803,840 C805,831 807.5,818 809.5,810.8 M807.5,828 C810.5,818 813.5,811 815,810.5 C816,810 815.5,812 815,813 C812,820 807.5,834 806.5,840 C806,843.5 809.5,843.5 810,840 C811,834 812,826 813.5,823.5 C815.5,821 818,820.5 819.5,820.5 M817,826 C820,823 823,821 826,821.2" stroke="#111" stroke-width="1.0" fill="none" />
<path d="M787,864 C791,858 796,853 800,849 C802,847 803,846 802.5,845.5 C800,849 798,854 797.5,857 C799,853 802,851 803.5,853 C804,855 803,857 805,856 C807,854 809,853 810,855 C810.5,857 812,856 814,854 C820,850 828,847.5 832,847.5 M789,862 C793,858 797,856 800,855" stroke="#111" stroke-width="1.1" fill="none" />
<path d="M818,856 C812,860 806,866 800,870 C795,874 789,877 787,875 C785,872 791,866 797,863 C803,860 806,861 804,865 C801,870 793,875 790,873 C787,870 795,862 801,861 C805,860 804,865 800,869 M796,866 C792,869 789,873 790,876 C792,878 797,874 800,872 M791,870 C787,874 786,878 789,878.5 C792,879 796,876 799,873 M806,862 C803,868 799,873 797,876 C801,872 808,866 815,858 M809,863 C806,868 803,873 801,876 C806,871 812,864 818,858 M812,862 L802,883 M814,859 L808,870 M811,860 L803,874" stroke="#111" stroke-width="1.0" fill="none" />
</svg></body></html>
